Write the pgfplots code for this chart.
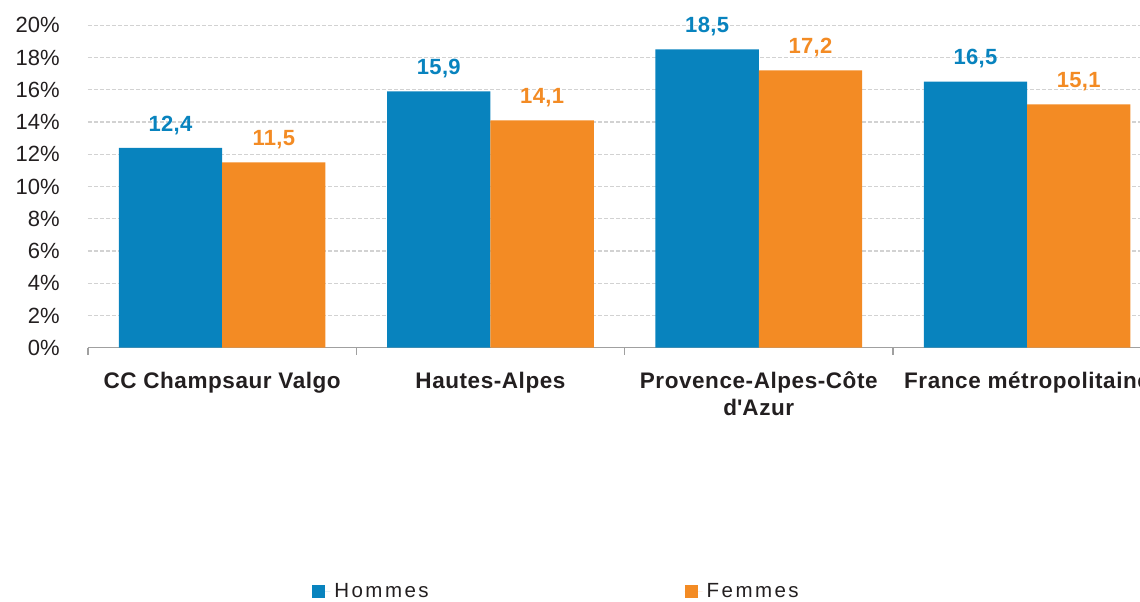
\documentclass[border=0pt]{standalone}
\usepackage{pgfplots}
\pgfplotsset{compat=1.18}
\usepackage{fontspec}
\setmainfont{Liberation Sans}
\newfontfamily\datafont[LetterSpace=1.5]{Liberation Sans}
\newfontfamily\catfont[LetterSpace=2.5]{Liberation Sans}
\newfontfamily\legfont[LetterSpace=12]{Liberation Sans}
\definecolor{cblue}{RGB}{8,131,190}
\definecolor{corange}{RGB}{243,139,36}
\definecolor{txt}{RGB}{35,31,32}
\definecolor{gridc}{RGB}{210,210,210}
\definecolor{axc}{RGB}{160,160,160}
\begin{document}
\begin{tikzpicture}
\useasboundingbox (-44pt,-126.65pt) rectangle (526pt,173.85pt);
\begin{axis}[
  at={(0pt,0pt)}, anchor=south west,
  scale only axis, width=526pt, height=161.2pt,
  xmin=-0.5, xmax=3.421, ymin=0, ymax=20,
  ybar=0pt, bar width=51.65pt,
  axis x line*=bottom, axis y line*=left,
  x axis line style={-, draw=axc, line width=0.75pt},
  y axis line style={draw=none},
  tick align=outside,
  major tick length=0pt, minor tick length=3.5pt,
  xtick={0,1,2,3},
  xticklabels={CC Champsaur Valgo, Hautes-Alpes, {Provence-Alpes-Côte\\d\textquotesingle Azur}, France métropolitaine},
  minor xtick={-0.5,0.5,1.5,2.5},
  minor x tick style={draw=axc, line width=0.75pt},
  major tick style={draw=none},
  ytick={0,2,...,20},
  yticklabels={0\%,2\%,4\%,6\%,8\%,10\%,12\%,14\%,16\%,18\%,20\%},
  ymajorgrids,
  major grid style={draw=gridc, line width=0.6pt, dash pattern=on 2pt off 1pt},
  yticklabel style={anchor=east, inner sep=0pt, xshift=-14pt, font=\fontsize{11pt}{13pt}\selectfont, text=txt},
  xticklabel style={anchor=north, inner sep=0pt, yshift=-12pt, align=center, font=\catfont\bfseries\fontsize{11.25pt}{13.5pt}\selectfont, text=txt},
  legend style={at={(0.2129,-0.757)}, anchor=west, draw=none, fill=none, inner sep=0pt,
    font=\legfont\fontsize{10.25pt}{12pt}\selectfont, text=txt,
    /tikz/every even column/.append style={column sep=126pt}},
  legend columns=2,
  legend image code/.code={\fill[#1] (0pt,-3.25pt) rectangle (6.5pt,3.25pt); \path (0pt,0pt) -- (9pt,0pt);},
  every node near coord/.append style={anchor=south, inner sep=0pt, yshift=6.5pt, font=\datafont\bfseries\fontsize{11pt}{13pt}\selectfont},
  nodes near coords={\pgfmathprintnumber[fixed, fixed zerofill, precision=1, use comma, assume math mode=true]{\pgfplotspointmeta}},
]
\addplot[fill=cblue, draw=none, nodes near coords style={text=cblue}] coordinates {(0,12.4) (1,15.9) (2,18.5) (3,16.5)};
\addlegendentry{Hommes}
\addplot[fill=corange, draw=none, nodes near coords style={text=corange}] coordinates {(0,11.5) (1,14.1) (2,17.2) (3,15.1)};
\addlegendentry{Femmes}
\end{axis}
\end{tikzpicture}
\end{document}
